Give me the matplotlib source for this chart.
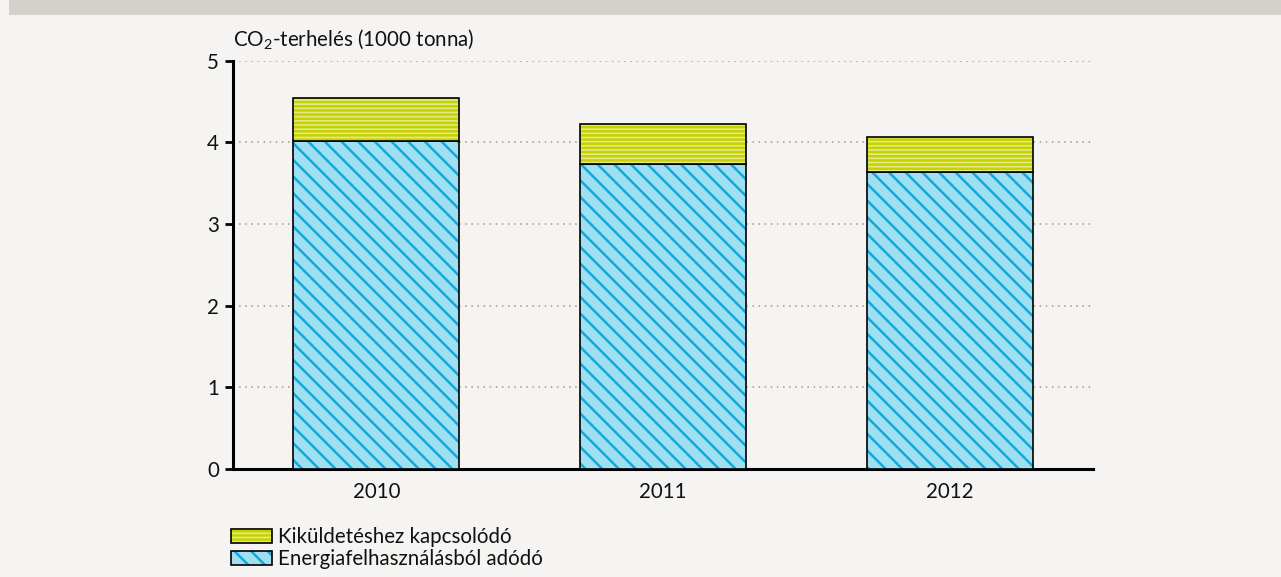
import matplotlib
matplotlib.use('Agg')
import matplotlib.pyplot as plt
import numpy as np

years = ['2010', '2011', '2012']
energia = [4.02, 3.74, 3.64]
kikuldetes = [0.52, 0.49, 0.42]
labels = ['Kiküldetéshez kapcsolódó', 'Energiafelhasználásból adódó']
yticks = [0, 1, 2, 3, 4, 5]

plt.rcParams['font.family'] = ['Lato', 'DejaVu Sans']
plt.rcParams['mathtext.default'] = 'regular'
plt.rcParams['hatch.linewidth'] = 1.8

bg = '#f5f4f2'
fs = 14.8
fig = plt.figure(figsize=(12.81, 5.77), dpi=100, facecolor=bg)

# grey band on top
fig.patches.append(plt.Rectangle((9/1281, 1 - 15/577), 1, 15/577, transform=fig.transFigure,
                                 facecolor='#d4d0cc', edgecolor='none', zorder=0))

ax = fig.add_axes([233/1281, 1 - 469/577, (1093-233)/1281, (469-60.7)/577])
ax.set_facecolor(bg)

x = np.arange(len(years))
b1 = ax.bar(x, energia, width=0.58, color='#9ee0f2', edgecolor='black', linewidth=1.2,
            hatch='\\\\', zorder=3, label=labels[1])
b2 = ax.bar(x, kikuldetes, bottom=energia, width=0.58, color='#e3eb86', edgecolor='black',
            linewidth=1.2, hatch='----', zorder=3, label=labels[0])
for p in b1:
    p._hatch_color = matplotlib.colors.to_rgba('#12a9dc')
for p in b2:
    p._hatch_color = matplotlib.colors.to_rgba('#c6d300')

ax.set_xlim(-0.5, 2.5)
ax.set_ylim(0, 5)
ax.set_yticks(yticks)
ax.set_xticks(x)
ax.set_xticklabels(years)
ax.tick_params(axis='x', length=0, pad=9, labelsize=fs, labelcolor='#111111')
ax.tick_params(axis='y', length=6, width=2, pad=4, labelsize=fs, labelcolor='#111111')
for s in ['top', 'right']:
    ax.spines[s].set_visible(False)
for s in ['left', 'bottom']:
    ax.spines[s].set_linewidth(2.2)

for v in yticks[1:]:
    ax.axhline(v, color='#999999', linewidth=1.1, linestyle=(0, (1, 3)), zorder=1)

fig.text(233/1281, 1 - 46/577, 'CO$_2$-terhelés (1000 tonna)', fontsize=fs, ha='left',
         va='baseline', color='#111111')

leg = fig.legend(handles=[b2, b1], labels=labels, loc='upper left',
                 bbox_to_anchor=(231/1281, 1 - 527/577), frameon=False, fontsize=fs,
                 handlelength=2.0, handleheight=0.65, handletextpad=0.3, labelspacing=0.12,
                 borderpad=0, borderaxespad=0)
for t in leg.get_texts():
    t.set_color('#111111')

fig.savefig('out.png', dpi=100, facecolor=bg)
